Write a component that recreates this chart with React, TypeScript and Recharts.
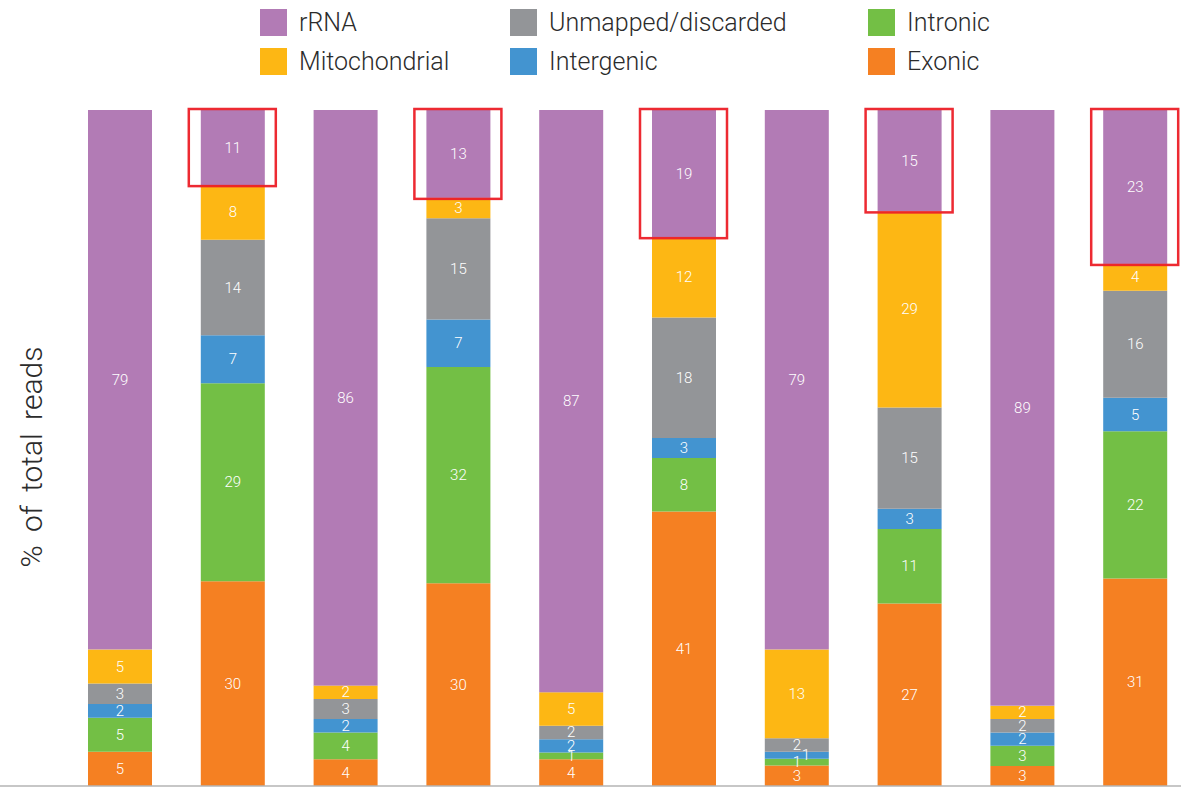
import React from "react";
import { BarChart, Bar, XAxis, YAxis, LabelList, Legend, ReferenceLine } from "recharts";

// Sample categories (one stacked column each)
const samples = ["S1", "S2", "S3", "S4", "S5", "S6", "S7", "S8", "S9", "S10"];

// Read composition per sample, % of total reads
const exonic = [5, 30, 4, 30, 4, 41, 3, 27, 3, 31];
const intronic = [5, 29, 4, 32, 1, 8, 1, 11, 3, 22];
const intergenic = [2, 7, 2, 7, 2, 3, 1, 3, 2, 5];
const unmapped = [3, 14, 3, 15, 2, 18, 2, 15, 2, 16];
const mitochondrial = [5, 8, 2, 3, 5, 12, 13, 29, 2, 4];
const rrna = [79, 11, 86, 13, 87, 19, 79, 15, 89, 23];

// Samples whose rRNA block is outlined
const outlined = [false, true, false, true, false, true, false, true, false, true];

const COLORS = {
  rrna: "#b27bb5",
  mitochondrial: "#fdb714",
  unmapped: "#939598",
  intergenic: "#4394d0",
  intronic: "#73bf45",
  exonic: "#f58022",
};

const FONT = "'Roboto', 'Liberation Sans', sans-serif";

const data = samples.map((name, i) => ({
  name,
  exonic: exonic[i],
  intronic: intronic[i],
  intergenic: intergenic[i],
  unmapped: unmapped[i],
  mitochondrial: mitochondrial[i],
  rrna: rrna[i],
}));

// Legend laid out as three columns of two rows
const legendItems = [
  { label: "rRNA", color: COLORS.rrna, col: 0, row: 0 },
  { label: "Mitochondrial", color: COLORS.mitochondrial, col: 0, row: 1 },
  { label: "Unmapped/discarded", color: COLORS.unmapped, col: 1, row: 0 },
  { label: "Intergenic", color: COLORS.intergenic, col: 1, row: 1 },
  { label: "Intronic", color: COLORS.intronic, col: 2, row: 0 },
  { label: "Exonic", color: COLORS.exonic, col: 2, row: 1 },
];
const legendColX = [260, 510, 868];
const legendRowY = [9, 48];

const renderLegend = () => (
  <div style={{ position: "relative", width: 1181, height: 100 }}>
    {legendItems.map((it) => (
      <div
        key={it.label}
        style={{
          position: "absolute",
          left: legendColX[it.col],
          top: legendRowY[it.row],
          display: "flex",
          alignItems: "center",
          height: 27,
        }}
      >
        <div style={{ width: 27, height: 27, background: it.color }} />
        <span
          style={{
            marginLeft: 12,
            fontFamily: FONT,
            fontWeight: 300,
            fontSize: 25,
            color: "#2b2b2b",
            whiteSpace: "nowrap",
            lineHeight: "27px",
          }}
        >
          {it.label}
        </span>
      </div>
    ))}
  </div>
);

// White value label centred in each segment
const makeLabel = (nudgeThin: boolean) => (props: any) => {
  const { x, y, width, height, value } = props;
  let cx = Number(x) + Number(width) / 2;
  if (nudgeThin && Number(height) < 8) cx += 9;
  const cy = Number(y) + Number(height) / 2;
  return (
    <text
      x={cx}
      y={cy}
      fill="#ffffff"
      fontFamily={FONT}
      fontWeight={300}
      fontSize={15}
      textAnchor="middle"
      dominantBaseline="central"
    >
      {value}
    </text>
  );
};

// rRNA block, with a red frame on the outlined samples
const RrnaShape = (props: any) => {
  const { x, y, width, height, index, fill } = props;
  return (
    <g>
      <rect x={x} y={y} width={width} height={height} fill={fill} />
      {outlined[index] && (
        <rect
          x={x - 12}
          y={y - 1}
          width={width + 23}
          height={height + 2}
          fill="none"
          stroke="#ec1f27"
          strokeWidth={2.5}
          strokeOpacity={0.95}
        />
      )}
    </g>
  );
};

const series: { key: keyof typeof COLORS }[] = [
  { key: "exonic" },
  { key: "intronic" },
  { key: "intergenic" },
  { key: "unmapped" },
  { key: "mitochondrial" },
];

export default function App() {
  return (
    <div
      style={{
        position: "absolute",
        left: 0,
        top: 0,
        width: 1181,
        height: 787,
        overflow: "hidden",
        background: "#ffffff",
      }}
    >
      <BarChart
        width={1200}
        height={787}
        data={data}
        stackOffset="expand"
        margin={{ top: 110, right: 0, bottom: 1, left: 0 }}
      >
        <XAxis dataKey="name" hide padding={{ left: 64, right: 8 }} />
        <YAxis hide domain={[0, 1]} />
        <Legend
          verticalAlign="middle"
          align="center"
          layout="horizontal"
          content={renderLegend}
          wrapperStyle={{ position: "absolute", top: 0, left: 0, width: 1181, height: 100 }}
        />
        {series.map((s) => (
          <Bar
            key={s.key}
            dataKey={s.key}
            stackId="a"
            fill={COLORS[s.key]}
            barSize={64}
            isAnimationActive={false}
          >
            <LabelList dataKey={s.key} content={makeLabel(s.key === "intergenic")} />
          </Bar>
        ))}
        <Bar
          dataKey="rrna"
          stackId="a"
          fill={COLORS.rrna}
          barSize={64}
          shape={<RrnaShape />}
          isAnimationActive={false}
        >
          <LabelList dataKey="rrna" content={makeLabel(false)} />
        </Bar>
        <ReferenceLine y={0} stroke="#b4b4b4" strokeWidth={1.5} />
      </BarChart>
      <div
        style={{
          position: "absolute",
          left: 31,
          top: 457,
          transform: "translate(-50%, -50%) rotate(-90deg)",
          fontFamily: FONT,
          fontWeight: 300,
          fontSize: 30,
          color: "#2b2b2b",
          whiteSpace: "nowrap",
          wordSpacing: 6,
        }}
      >
        % of total reads
      </div>
    </div>
  );
}
